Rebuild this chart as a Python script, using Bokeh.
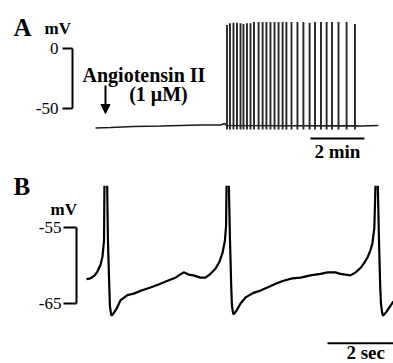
from bokeh.plotting import figure
from bokeh.layouts import column
from bokeh.models import Range1d, Arrow, NormalHead
from bokeh.core.properties import value
from bokeh.embed import file_html
from bokeh.resources import INLINE

NaN = float("nan")
FONT = value("Liberation Serif")

# ---------------- Panel A data (time in min, voltage in mV) ----------------
a_base_t = [0.0, 0.56, 1.41, 2.41, 3.89, 4.63, 4.78, 4.85, 9.61, 9.81, 10.48]
a_base_v = [-66.2, -65.8, -65.0, -64.6, -63.75, -63.75, -62.5, -64.2, -64.5, -64.6, -64.2]
spike_t = [4.87, 4.98, 5.11, 5.24, 5.37, 5.48, 5.61, 5.74, 5.87, 6.04, 6.19, 6.33,
           6.48, 6.63, 6.78, 6.93, 7.07, 7.26, 7.48, 7.70, 7.93, 8.13, 8.35, 8.56,
           8.76, 9.00, 9.30, 9.61]
spike_peak = [19.5, 21.0, 21.5, 21.5, 21.0, 20.5, 21.0, 21.0, 22.0, 22.0, 22.0, 22.0,
              22.0, 22.0, 22.0, 22.0, 22.0, 22.0, 22.0, 22.0, 21.5, 22.0, 22.0, 22.0,
              22.0, 22.0, 22.0, 20.5]
spike_trough = [-67.5] * len(spike_t)
a_scale_ticks = [0, -50]
a_scale_labels = ["0", "-50"]
a_time_bar = [7.96, 9.96]      # 2 min
drug_t = 0.37                  # application of Angiotensin II

# ---------------- Panel B data (time in s, voltage in mV) ----------------
b_t = [0.00, 0.10, 0.21, 0.28, 0.36, 0.41, 0.45, 0.46, NaN,
       0.53, 0.55, 0.58, 0.60, 0.63, 0.65, 0.69, 0.77, 0.87, 1.05, 1.21, 1.41, 1.64,
       1.85, 2.08, 2.28, 2.49, 2.62, 2.74, 2.92, 3.05, 3.18, 3.31, 3.41, 3.49, 3.55,
       3.58, 3.59, NaN,
       3.65, 3.68, 3.71, 3.73, 3.76, 3.78, 3.85, 3.95, 4.08, 4.28, 4.46, 4.64, 4.85,
       5.05, 5.28, 5.49, 5.74, 6.00, 6.18, 6.38, 6.51, 6.64, 6.77, 6.90, 7.03, 7.13,
       7.21, 7.28, 7.33, 7.38, 7.41, NaN,
       7.47, 7.50, 7.53, 7.55, 7.58, 7.60, 7.64, 7.69, 7.74, 7.82, 7.87]
b_v = [-61.8, -61.7, -61.3, -60.8, -59.9, -58.8, -56.7, -49.5, NaN,
       -49.5, -56.7, -62.0, -65.3, -66.4, -66.6, -66.3, -65.7, -64.6, -63.9, -63.7,
       -63.3, -62.9, -62.5, -62.0, -61.6, -60.9, -61.2, -61.3, -61.6, -61.6, -61.1,
       -60.4, -59.5, -58.3, -56.7, -54.7, -49.5, NaN,
       -49.5, -56.7, -62.6, -65.3, -66.3, -66.4, -65.9, -65.0, -64.2, -63.6, -63.3,
       -62.9, -62.4, -62.0, -61.7, -61.6, -61.3, -61.1, -60.9, -60.9, -61.1, -61.2,
       -61.3, -60.9, -60.3, -59.6, -58.9, -58.0, -57.1, -55.1, -49.5, NaN,
       -49.5, -56.7, -62.6, -65.0, -66.2, -66.6, -66.4, -66.1, -65.7, -65.1, -64.7]
b_scale_ticks = [-55, -65]
b_scale_labels = ["-55", "-65"]
b_time_bar = [6.18, 8.18]      # 2 sec

W = 393


def bare(fig):
    fig.axis.visible = False
    fig.grid.visible = False
    fig.outline_line_color = None
    fig.min_border = 0
    fig.background_fill_color = "white"
    fig.border_fill_color = "white"


def label(fig, x, y, txt, size, bold=True, align="left"):
    fig.text(x=[x] if not isinstance(x, list) else x,
             y=[y] if not isinstance(y, list) else y,
             text=[txt] if not isinstance(txt, list) else txt,
             text_font=FONT, text_font_style="bold" if bold else "normal",
             text_font_size=size, text_align=align, text_baseline="middle",
             text_color="black")


# ---------------- Panel A ----------------
pa = figure(width=W, height=172, x_range=Range1d(-3.519, 11.037),
            y_range=Range1d(-103.33, 40.0), output_backend="svg",
            toolbar_location=None)
bare(pa)
pa.line(a_base_t, a_base_v, line_color="#1a1a1a", line_width=1.6)
pa.segment(x0=spike_t, y0=spike_trough, x1=spike_t, y1=spike_peak,
           line_color="#262626", line_width=1.9)

# vertical scale bar
bx_a, tx_a = -0.852, -1.222
pa.segment(x0=[bx_a], y0=[min(a_scale_ticks)], x1=[bx_a], y1=[max(a_scale_ticks)],
           line_color="black", line_width=2)
pa.segment(x0=[tx_a] * 2, y0=a_scale_ticks, x1=[bx_a] * 2, y1=a_scale_ticks,
           line_color="black", line_width=2)
label(pa, [-1.37] * 2, a_scale_ticks, a_scale_labels, "17px", bold=False, align="right")
label(pa, -1.889, 16.7, "mV", "17px")
label(pa, -3.037, 17.1, "A", "25px")
label(pa, -0.48, -22.1, "Angiotensin II", "20px")
label(pa, 2.33, -38.3, "(1 \u03bcM)", "20px", align="center")
pa.add_layout(Arrow(x_start=drug_t, y_start=-30.8, x_end=drug_t, y_end=-54.2,
                    line_width=2, line_color="black",
                    end=NormalHead(size=9, fill_color="black", line_color="black")))
# time bar
pa.segment(x0=[a_time_bar[0]], y0=[-75], x1=[a_time_bar[1]], y1=[-75],
           line_color="black", line_width=2)
label(pa, sum(a_time_bar) / 2, -85.8, "2 min", "19px", align="center")

# ---------------- Panel B ----------------
pb = figure(width=W, height=191, x_range=Range1d(-2.205, 7.872),
            y_range=Range1d(-72.895, -47.763), output_backend="svg",
            toolbar_location=None)
bare(pb)
pb.line(b_t, b_v, line_color="black", line_width=2.2)

bx_b, tx_b = -0.256, -0.59
pb.segment(x0=[bx_b], y0=[min(b_scale_ticks)], x1=[bx_b], y1=[max(b_scale_ticks)],
           line_color="black", line_width=2)
pb.segment(x0=[tx_b] * 2, y0=b_scale_ticks, x1=[bx_b] * 2, y1=b_scale_ticks,
           line_color="black", line_width=2)
label(pb, [-0.641] * 2, b_scale_ticks, b_scale_labels, "17px", bold=False, align="right")
label(pb, -0.923, -52.63, "mV", "17px")
label(pb, -1.872, -49.54, "B", "25px")
pb.segment(x0=[b_time_bar[0]], y0=[-70.22], x1=[b_time_bar[1]], y1=[-70.22],
           line_color="black", line_width=2)
label(pb, 7.16, -71.45, "2 sec", "19px", align="center")

layout = column(pa, pb, spacing=0)
open("out.html", "w").write(file_html(layout, INLINE))
